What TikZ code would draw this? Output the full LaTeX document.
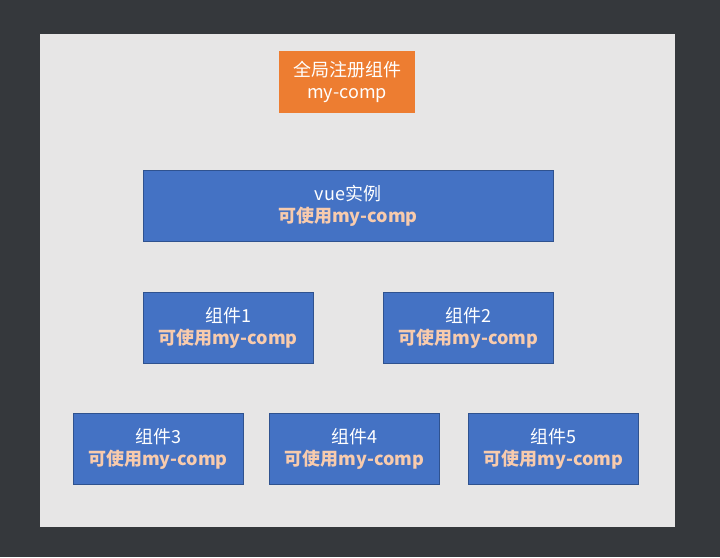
\documentclass[tikz,border=0pt]{standalone}
\usepackage{fontspec}
\setmainfont{Noto Sans CJK SC}
\usetikzlibrary{positioning}

\definecolor{darkbg}{HTML}{35383C}
\definecolor{panel}{HTML}{E7E6E6}
\definecolor{compblue}{HTML}{4472C4}
\definecolor{compedge}{HTML}{2F528F}
\definecolor{regorange}{HTML}{ED7D31}
\definecolor{usetext}{HTML}{F8CBAD}

\newcommand{\usable}{\textcolor{usetext}{\bfseries 可使用my-comp}}

\begin{document}
\begin{tikzpicture}[x=0.75pt, y=-0.75pt,
    box/.style={draw=compedge, line width=0.6pt, fill=compblue, text=white,
        align=center, inner sep=0pt, minimum height=53.25pt,
        font=\fontsize{13.5}{16.5}\selectfont},
    compbox/.style={box, minimum width=127.5pt},
    regbox/.style={box, draw=none, fill=regorange, minimum width=102pt, minimum height=46.5pt},
    ]
% background and panel
\fill[darkbg] (0,0) rectangle (720,557);
\fill[panel] (40,34) rectangle (675,527);

% global registration
\node[regbox] (reg) at (347,82) {全局注册组件\\my-comp};

% vue instance
\node[box, minimum width=307.5pt] (vue) at (348,205.5) {vue实例\\\usable};

% components
\node[compbox] (c1) at (228,327.5) {组件1\\\usable};
\node[compbox] (c2) at (468.5,327.5) {组件2\\\usable};
\node[compbox] (c3) at (158,448.5) {组件3\\\usable};
\node[compbox] (c4) at (354.5,448.5) {组件4\\\usable};
\node[compbox] (c5) at (553.5,448.5) {组件5\\\usable};
\end{tikzpicture}
\end{document}
